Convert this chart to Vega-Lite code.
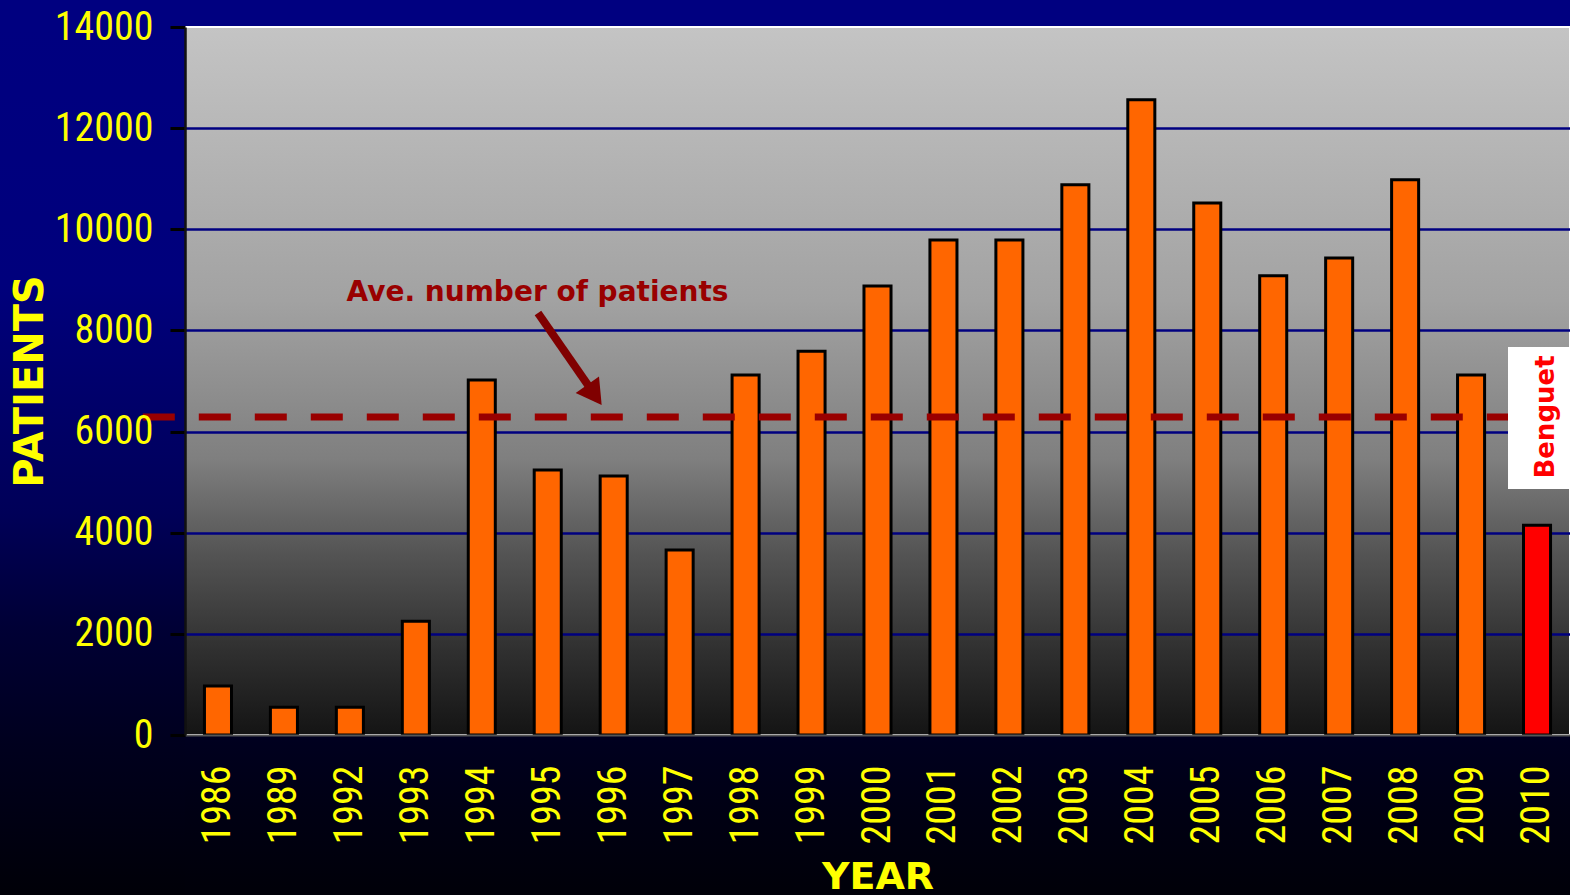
{
  "$schema": "https://vega.github.io/schema/vega-lite/v6.json",
  "width": 1385,
  "height": 708,
  "autosize": {"type": "none"},
  "padding": {"left": 185, "top": 27, "right": 0, "bottom": 160},
  "background": "#000080",
  "config": {
    "view": {
      "stroke": "#FFFFFF",
      "strokeWidth": 2,
      "fill": {
        "gradient": "linear", "x1": 0, "y1": 0, "x2": 0, "y2": 1,
        "stops": [
          {"offset": 0, "color": "#C4C4C4"},
          {"offset": 0.386, "color": "#A2A2A2"},
          {"offset": 0.61, "color": "#7F7F7F"},
          {"offset": 0.74, "color": "#555555"},
          {"offset": 0.88, "color": "#303030"},
          {"offset": 1, "color": "#141414"}
        ]
      }
    }
  },
  "datasets": {
    "patients": [
      {"year": "1986", "patients": 970},
      {"year": "1989", "patients": 550},
      {"year": "1992", "patients": 550},
      {"year": "1993", "patients": 2250},
      {"year": "1994", "patients": 7020},
      {"year": "1995", "patients": 5240},
      {"year": "1996", "patients": 5120},
      {"year": "1997", "patients": 3660},
      {"year": "1998", "patients": 7120},
      {"year": "1999", "patients": 7590},
      {"year": "2000", "patients": 8880},
      {"year": "2001", "patients": 9790},
      {"year": "2002", "patients": 9790},
      {"year": "2003", "patients": 10880},
      {"year": "2004", "patients": 12560},
      {"year": "2005", "patients": 10520},
      {"year": "2006", "patients": 9080},
      {"year": "2007", "patients": 9430},
      {"year": "2008", "patients": 10980},
      {"year": "2009", "patients": 7120},
      {"year": "2010", "patients": 4150}
    ]
  },
  "resolve": {
    "scale": {"x": "independent", "y": "independent"},
    "axis": {"x": "independent", "y": "independent"}
  },
  "layer": [
    {
      "data": {"name": "patients"},
      "mark": {"type": "bar", "stroke": "#000000", "strokeWidth": 3},
      "encoding": {
        "x": {
          "field": "year", "type": "nominal", "sort": null,
          "scale": {"paddingInner": 0.59, "paddingOuter": 0.295},
          "axis": {
            "title": "YEAR",
            "titleFont": "DejaVu Sans", "titleFontSize": 38, "titleFontWeight": "bold",
            "titleColor": "#FFFF00", "titleY": 153, "titleBaseline": "alphabetic",
            "labelAngle": 270, "labelFont": "Roboto Condensed, DejaVu Sans Condensed, Liberation Sans Narrow, Roboto, sans-serif", "labelFontSize": 40,
            "labelColor": "#FFFF00", "labelPadding": 30, "ticks": false,
            "domainColor": "#555555", "domainWidth": 2, "zindex": 1
          }
        },
        "y": {
          "field": "patients", "type": "quantitative",
          "scale": {"domain": [0, 14000], "nice": false},
          "axis": {
            "orient": "left", "grid": true, "gridColor": "#000080", "gridWidth": 2.5,
            "labels": false, "ticks": false, "domain": false, "title": null,
            "values": [2000, 4000, 6000, 8000, 10000, 12000], "zindex": 0
          }
        },
        "color": {
          "condition": {"test": "datum.year === '2010'", "value": "#FF0000"},
          "value": "#FF6600"
        }
      }
    },
    {
      "data": {"values": [{}]},
      "mark": {
        "type": "rect",
        "fill": {
          "gradient": "linear", "x1": 0, "y1": 0, "x2": 0, "y2": 1,
          "stops": [
            {"offset": 0, "color": "#000080"},
            {"offset": 0.29, "color": "#00007C"},
            {"offset": 0.55, "color": "#000058"},
            {"offset": 0.68, "color": "#000035"},
            {"offset": 0.81, "color": "#00001E"},
            {"offset": 1, "color": "#000005"}
          ]
        }
      },
      "encoding": {
        "x": {"datum": -3, "type": "quantitative", "scale": {"domain": [0, 21], "nice": false, "zero": false}, "axis": null},
        "x2": {"datum": 0},
        "y": {
          "datum": 14000, "type": "quantitative",
          "scale": {"domain": [0, 14000], "nice": false},
          "axis": {
            "orient": "left", "grid": false, "title": "PATIENTS", "format": "d",
            "titleFont": "DejaVu Sans", "titleFontSize": 40, "titleFontWeight": "bold",
            "titleColor": "#FFFF00", "titleX": -143, "titleY": 354,
            "titleBaseline": "alphabetic", "titleAngle": 270, "titleAlign": "center",
            "labelFont": "Roboto Condensed, DejaVu Sans Condensed, Liberation Sans Narrow, Roboto, sans-serif", "labelFontSize": 40,
            "labelColor": "#FFFF00", "labelPadding": 17, "labelFlush": false,
            "tickSize": 15, "tickColor": "#000000", "tickWidth": 3,
            "domainColor": "#111111", "domainWidth": 2.5,
            "values": [0, 2000, 4000, 6000, 8000, 10000, 12000, 14000],
            "zindex": 1
          }
        },
        "y2": {"datum": -3500}
      }
    },
    {
      "data": {"values": [{}]},
      "mark": {
        "type": "rect",
        "fill": {
          "gradient": "linear", "x1": 0, "y1": 0, "x2": 0, "y2": 1,
          "stops": [
            {"offset": 0, "color": "#000020"},
            {"offset": 0.4, "color": "#000014"},
            {"offset": 1, "color": "#000006"}
          ]
        }
      },
      "encoding": {
        "x": {"datum": 0, "type": "quantitative", "scale": {"domain": [0, 21], "nice": false, "zero": false}, "axis": null},
        "x2": {"datum": 21.5},
        "y": {"datum": 0, "type": "quantitative", "scale": {"domain": [0, 14000], "nice": false}, "axis": null},
        "y2": {"datum": -3500}
      }
    },
    {
      "data": {"values": [{}]},
      "mark": {"type": "rule", "color": "#990000", "strokeWidth": 7, "strokeDash": [32, 24]},
      "encoding": {
        "x": {"datum": -0.64, "type": "quantitative", "scale": {"domain": [0, 21], "nice": false, "zero": false}, "axis": null},
        "x2": {"datum": 20.06},
        "y": {"datum": 6288, "type": "quantitative", "scale": {"domain": [0, 14000], "nice": false}, "axis": null}
      }
    },
    {
      "data": {"values": [{}]},
      "mark": {"type": "rect", "fill": "#FFFFFF"},
      "encoding": {
        "x": {"datum": 20.06, "type": "quantitative", "scale": {"domain": [0, 21], "nice": false, "zero": false}, "axis": null},
        "x2": {"datum": 21.5},
        "y": {"datum": 7672, "type": "quantitative", "scale": {"domain": [0, 14000], "nice": false}, "axis": null},
        "y2": {"datum": 4865}
      }
    },
    {
      "data": {"values": [{}]},
      "mark": {"type": "text", "text": "Benguet", "angle": 270, "align": "center", "baseline": "middle", "font": "Comic Sans MS, DejaVu Sans", "fontSize": 26, "fontWeight": "bold", "fill": "#FF0000"},
      "encoding": {
        "x": {"datum": 20.63, "type": "quantitative", "scale": {"domain": [0, 21], "nice": false, "zero": false}, "axis": null},
        "y": {"datum": 6288, "type": "quantitative", "scale": {"domain": [0, 14000], "nice": false}, "axis": null}
      }
    },
    {
      "data": {"values": [{}]},
      "mark": {"type": "rule", "color": "#800000", "strokeWidth": 8},
      "encoding": {
        "x": {"datum": 5.352, "type": "quantitative", "scale": {"domain": [0, 21], "nice": false, "zero": false}, "axis": null},
        "x2": {"datum": 6.141},
        "y": {"datum": 8345, "type": "quantitative", "scale": {"domain": [0, 14000], "nice": false}, "axis": null},
        "y2": {"datum": 6862}
      }
    },
    {
      "data": {"values": [{}]},
      "mark": {"type": "point", "shape": "triangle-down", "filled": true, "fill": "#800000", "fillOpacity": 1, "strokeWidth": 0, "size": 818, "angle": 324.7},
      "encoding": {
        "x": {"datum": 6.209, "type": "quantitative", "scale": {"domain": [0, 21], "nice": false, "zero": false}, "axis": null},
        "y": {"datum": 6725, "type": "quantitative", "scale": {"domain": [0, 14000], "nice": false}, "axis": null}
      }
    },
    {
      "data": {"values": [{}]},
      "mark": {"type": "text", "text": "Ave. number of patients", "align": "center", "baseline": "middle", "font": "Comic Sans MS, DejaVu Sans", "fontSize": 28, "fontWeight": "bold", "fill": "#990000"},
      "encoding": {
        "x": {"datum": 5.345, "type": "quantitative", "scale": {"domain": [0, 21], "nice": false, "zero": false}, "axis": null},
        "y": {"datum": 8740, "type": "quantitative", "scale": {"domain": [0, 14000], "nice": false}, "axis": null}
      }
    }
  ]
}
